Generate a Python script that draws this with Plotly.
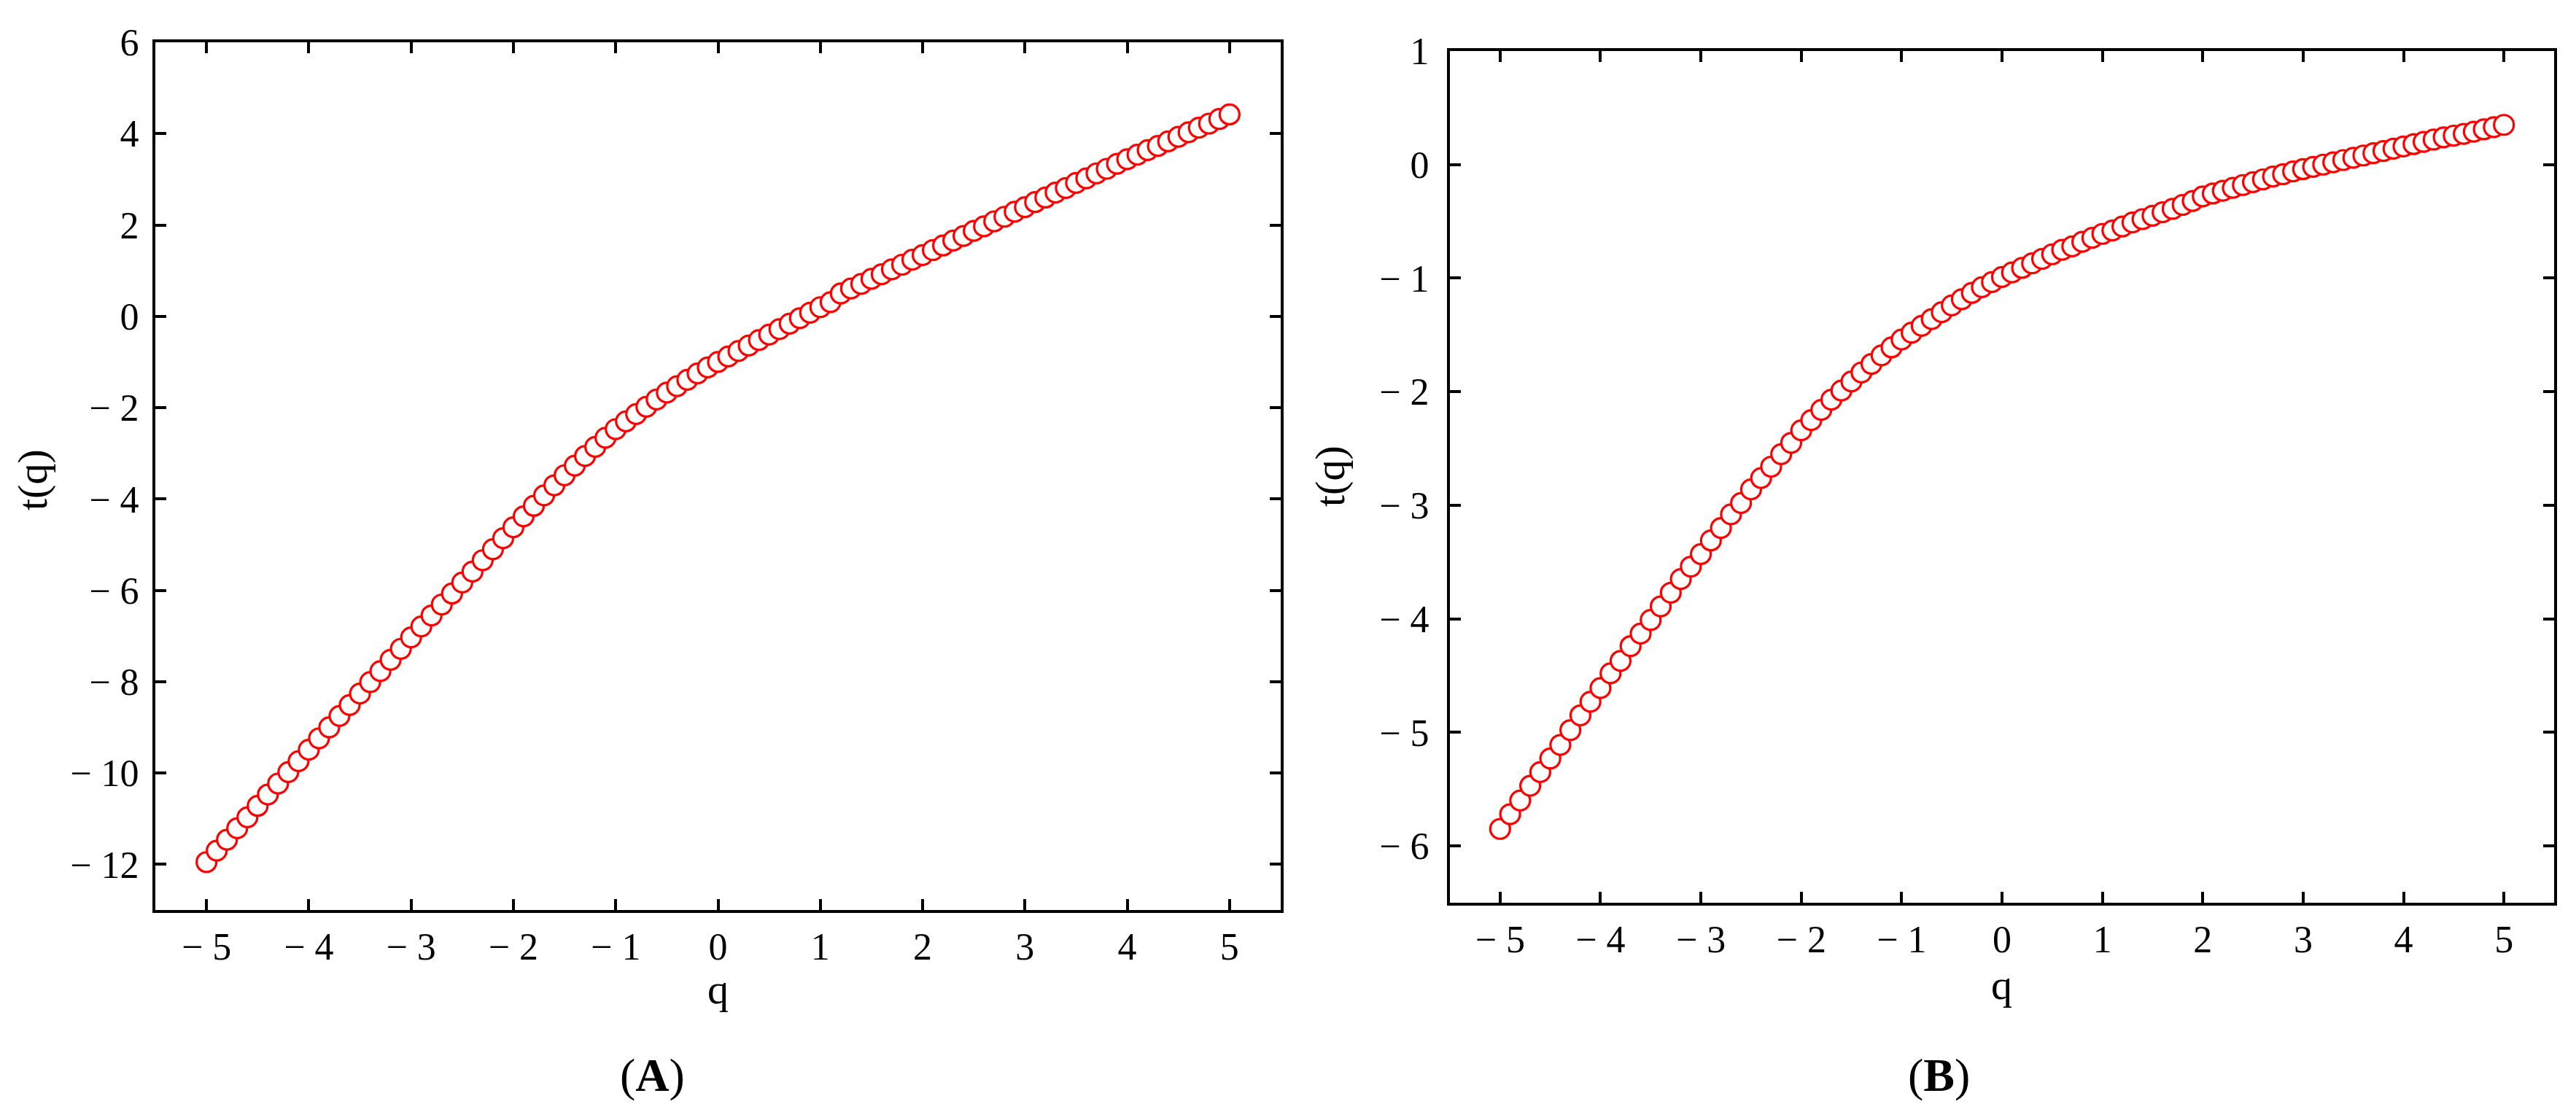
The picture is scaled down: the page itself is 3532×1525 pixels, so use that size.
import plotly.graph_objects as go

# ---------------- data ----------------
q_values = [round(-5 + 0.1 * i, 1) for i in range(101)]

tau_A = [
    -11.95, -11.70, -11.46, -11.21, -10.97, -10.72, -10.47, -10.23, -9.98, -9.74,
    -9.49, -9.24, -9.00, -8.75, -8.51, -8.26, -8.01, -7.77, -7.52, -7.28,
    -7.03, -6.79, -6.55, -6.31, -6.07, -5.83, -5.59, -5.34, -5.10, -4.86,
    -4.62, -4.38, -4.15, -3.92, -3.70, -3.48, -3.27, -3.06, -2.86, -2.66,
    -2.47, -2.30, -2.14, -1.98, -1.82, -1.67, -1.53, -1.39, -1.25, -1.12,
    -1.00, -0.88, -0.76, -0.64, -0.52, -0.40, -0.28, -0.16, -0.04, 0.08,
    0.20, 0.31, 0.50, 0.61, 0.71, 0.82, 0.92, 1.03, 1.13, 1.24,
    1.34, 1.45, 1.55, 1.66, 1.76, 1.87, 1.97, 2.08, 2.18, 2.29,
    2.39, 2.50, 2.60, 2.71, 2.81, 2.92, 3.02, 3.13, 3.23, 3.34,
    3.44, 3.54, 3.64, 3.73, 3.83, 3.93, 4.03, 4.13, 4.22, 4.32,
    4.42,
]

tau_B = [
    -5.85, -5.72, -5.60, -5.47, -5.35, -5.23, -5.11, -4.98, -4.85, -4.73,
    -4.61, -4.48, -4.37, -4.24, -4.13, -4.01, -3.89, -3.77, -3.65, -3.54,
    -3.43, -3.31, -3.20, -3.08, -2.98, -2.86, -2.76, -2.66, -2.55, -2.45,
    -2.34, -2.25, -2.16, -2.07, -1.99, -1.91, -1.83, -1.755, -1.68, -1.61,
    -1.54, -1.48, -1.42, -1.36, -1.30, -1.24, -1.185, -1.13, -1.08, -1.035,
    -0.99, -0.95, -0.91, -0.87, -0.83, -0.79, -0.75, -0.72, -0.68, -0.645,
    -0.61, -0.58, -0.545, -0.51, -0.48, -0.45, -0.42, -0.39, -0.355, -0.32,
    -0.28, -0.255, -0.23, -0.205, -0.18, -0.155, -0.13, -0.105, -0.085, -0.06,
    -0.04, -0.02, 0.00, 0.02, 0.04, 0.06, 0.08, 0.10, 0.12, 0.14,
    0.16, 0.18, 0.20, 0.22, 0.24, 0.255, 0.27, 0.29, 0.31, 0.33,
    0.35,
]

x_ticks = [-5, -4, -3, -2, -1, 0, 1, 2, 3, 4, 5]
yA_ticks = [-12, -10, -8, -6, -4, -2, 0, 2, 4, 6]
yB_ticks = [-6, -5, -4, -3, -2, -1, 0, 1]


def lab(v):
    return ("\u2212 " + str(abs(v))) if v < 0 else str(v)


# ---------------- figure ----------------
W, H = 3532, 1525
FONT = "Liberation Serif, Times New Roman, serif"

fig = go.Figure()

marker = dict(symbol="circle", size=27, color="white",
              line=dict(color="#ff0000", width=3.2))

fig.add_trace(go.Scatter(x=q_values, y=tau_A, mode="markers", marker=marker,
                         xaxis="x", yaxis="y", showlegend=False))
fig.add_trace(go.Scatter(x=q_values, y=tau_B, mode="markers", marker=marker,
                         xaxis="x2", yaxis="y2", showlegend=False))

axis_common = dict(
    showline=True, linewidth=4, linecolor="black", mirror="ticks",
    ticks="inside", ticklen=15, tickwidth=4, tickcolor="black",
    showgrid=False, zeroline=False, automargin=False,
    tickfont=dict(family=FONT, size=52, color="black"),
)

fig.update_layout(
    width=W, height=H,
    margin=dict(l=0, r=0, t=0, b=0, autoexpand=False),
    paper_bgcolor="white", plot_bgcolor="white",
    xaxis=dict(domain=[205 / W, 1748 / W], range=[-5.5, 5.5], anchor="y",
               tickvals=x_ticks, ticktext=[lab(v) for v in x_ticks],
               ticklabelstandoff=2, **axis_common),
    yaxis=dict(domain=[1 - 1240 / H, 1 - 50 / H], range=[-13, 6], anchor="x",
               tickvals=yA_ticks, ticktext=[lab(v) for v in yA_ticks],
               ticklabelstandoff=8, **axis_common),
    xaxis2=dict(domain=[1980 / W, 3494 / W], range=[-5.5, 5.5], anchor="y2",
                tickvals=x_ticks, ticktext=[lab(v) for v in x_ticks],
                ticklabelstandoff=2, **axis_common),
    yaxis2=dict(domain=[1 - 1230 / H, 1 - 62 / H], range=[-6.5, 1], anchor="x2",
                tickvals=yB_ticks, ticktext=[lab(v) for v in yB_ticks],
                ticklabelstandoff=14, **axis_common),
)


def ann(text, xpx, ypx, size, angle=0):
    fig.add_annotation(text=text, x=xpx / W, y=1 - ypx / H, xref="paper", yref="paper",
                       xanchor="center", yanchor="middle", showarrow=False,
                       textangle=angle, font=dict(family=FONT, size=size, color="black"))


ann("q", 976, 1348, 58)
ann("q", 2736, 1342, 58)
ann("t(q)", 36, 650, 58, angle=-90)
ann("t(q)", 1815, 645, 58, angle=-90)
ann("(<b>A</b>)", 886, 1466, 64)
ann("(<b>B</b>)", 2650, 1466, 64)

fig.write_html("out.html")
